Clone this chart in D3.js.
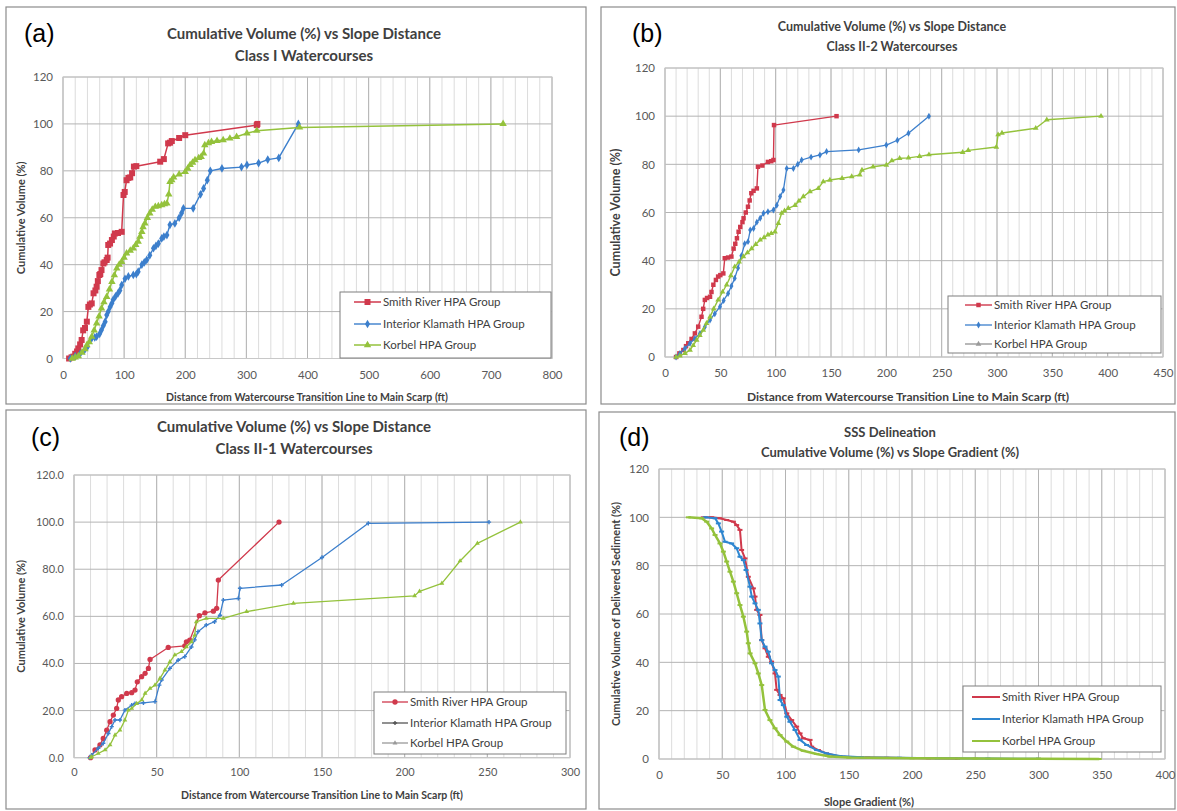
<!DOCTYPE html>
<html>
<head>
<meta charset="utf-8">
<script src="https://cdn.jsdelivr.net/npm/d3@7"></script>
<style>
body { margin: 0; background: #fff; }
svg { display: block; font-family: Lato, "Liberation Sans", Arial, sans-serif; }
</style>
</head>
<body>
<svg id="fig" width="1177" height="811"></svg>
<script>
var seriesNames = ["Smith River HPA Group", "Interior Klamath HPA Group", "Korbel HPA Group"];

// y ticks shared by all panels
var yTicks = [0, 20, 40, 60, 80, 100, 120];

// (a) Class I watercourses
var aXTicks = [0, 100, 200, 300, 400, 500, 600, 700, 800];
var aSmithX = [10,14,17,20,23,25,28,30.5,33,36,39,41.5,44,47,50,53,55,57,59.5,61,63,66,68,71.5,73,74,77,80,83,85,90,96,99,101,104,107,110,113,116,120,159,165,172,175,178,190,200,317,318];
var aSmithY = [0,0.5,0.8,2,3,4.3,6,7.9,12,13,15.7,22,23,23.5,27.8,29,30.6,33,35.6,36,37.7,40.5,41,42,43,48.4,49,50.5,52,53.3,53.5,54,69.7,71,76,77,77.2,79,81.8,82,83.9,85,91.7,92,92.7,94,95.2,99.5,100];
var aKlamathX = [12,20,28,35,40,47,52,55,60,63,66,69,71.5,74,77,80,82,86,90,93,96,101.5,107,115,120,123,129,133,137,142,148,152,156,161.5,165,170,175,183,190,194,197,213,225,230,236,241,260,292,301,320,335,353,385];
var aKlamathY = [0,1,2,3.5,5,8.6,9,9.3,10.5,12.1,14,15.7,18.5,20,22,23.5,25,26.5,27.8,29,31.3,34,35,35.6,36,37,40,41,42,44,47,48,49,51.2,52,52.6,57,57.6,60,62,64,64,70,72.5,76,80,81,81.6,82.5,83.3,84.8,85.5,100];
var aKorbelX = [15,20,25,31,36,39,43,47,51,55,59,63,67,71.5,76,80,84,88,92,96,100,104,110,115,119,123,126,129,131,134,138,142,146,151,156,161.5,166,170,173,175,178,181,190,200,204,208,212,216,222,226,230,232,238,243,252,262,273,284,301,317,387,720];
var aKorbelY = [0,0.5,1,2.5,4,5.7,7,9.3,12,15,18,21.4,24,26.3,29.5,32.7,35.5,38.4,40,41.2,43,44.8,46,47,48.5,49.8,52,54,56,57.6,60,61.9,63.5,64.7,65,65.4,65.8,66.1,70,75.3,76,77.2,78.5,79.6,81,82.5,83.5,84.6,85.5,86,87.4,91,91.8,92.4,92.8,93.1,93.8,94.5,96,97.1,98.5,100];

// (b) Class II-2 watercourses
var bXTicks = [0, 50, 100, 150, 200, 250, 300, 350, 400, 450];
var bSmithX = [10,13,16.6,19,21,24,27,30,33,34.5,36,38,40.7,42,43.7,46,48,50,52.7,54,57,60,62,63.5,65,66.5,68,70,71,73,75,76.5,78,80,83,84,88,93,96,98,98.5,155];
var bSmithY = [0,1.5,2.9,4.5,5.7,7.5,9.8,12.6,16.7,20,23.7,24.5,25,27,30,32,33.4,34,34.7,41,41.3,41.7,45,47,49.3,52,54,56,57.6,60,62.4,65,68,69,70,79,79.5,81,81.3,81.8,96.3,100];
var bKlamathX = [10,13.5,18,22.6,27,31.6,36,40.7,45,49.7,53,57,60,63,66,69,72,75,77,80,83,86,89,93,98,101,104,107,110,116,120,123.5,132,140,146,175,200,210,220,238.5];
var bKlamathY = [0,1.5,3.5,5.7,7.7,9.8,12.5,15.4,18,20.9,23.5,26.4,29.5,32.7,37,42,47,47.9,52.7,53.4,56,57.6,59.7,60.3,61,63,66.6,69.3,78.3,78.3,80,81.8,83,83.9,85.3,86,88,90,92.9,100];
var bKorbelX = [10,13.5,18,22.6,25.5,28.6,31.5,34.6,37.5,40.7,44,48,52,55.7,59.5,63,67,70.8,74.5,78.3,82,86,89.5,93,96,99.4,102.4,105.4,108,111.4,117.5,121,125,131,138.5,143,149,160,168.7,176,178,188,200,205,212,220,230,238.5,269,274,299.4,301,304.5,335,345,394];
var bKorbelY = [0,0.5,1.5,2.9,4.8,7,9,11.2,14,16.7,20,23.7,27,30,33.8,37.5,39.5,41.7,43.3,45,46.8,48.6,49.6,50.7,51.3,52,55.5,59.7,60.7,61.7,63,64.8,66.6,68.7,70,72.8,73.5,74.2,74.9,75.6,77.6,79,79.7,81.5,82.5,82.7,83.3,84,85,85.8,87.2,92.3,93,95,98.5,100];

// (c) Class II-1 watercourses
var cXTicks = [0, 50, 100, 150, 200, 250, 300];
var cSmithX = [10,12.7,15.7,17.7,19.8,21.8,23.8,25.8,26.8,28.8,31.9,34.9,36.9,38.3,40.9,43,45,46,57,67,68,70,75.8,79.2,84.3,86.3,87.3,124];
var cSmithY = [0,3.3,5.4,8.2,11.7,15.3,18.1,20.9,24.5,25.9,27.3,27.6,28.7,32.2,34.4,35.8,37.9,41.7,46.8,47.5,49.2,49.9,60.3,61.5,62.2,63.4,75.4,100];
var cKlamathX = [9.5,10.7,14.7,17.7,20.8,22.8,24.8,27.8,30.8,34.9,36.9,42,49,51.6,53,58,63,67,71,73,75,80,85,88.3,90.3,99.4,100.4,125.6,150,178,251];
var cKlamathY = [0,1.1,4,6.1,10.3,13.2,16,16,20.2,22.3,23,23.3,23.8,30.8,33,37.9,41.4,42.9,47,50,53.5,56.3,57.7,60.5,66.9,67.6,71.9,73.3,85,99.5,100];
var cKorbelX = [10,10.7,14.7,18.8,21.8,24.8,27.8,30.8,32.9,34.9,37.9,41,43,46,49,52,55,58,61,65,68,71,73,74,80,90.3,104.4,132.7,206,209,222.5,233.5,244,270];
var cKorbelY = [0,0.4,1.8,3.3,5.4,9.6,11.7,16,20.2,20.9,23,24.5,27.3,29.4,30.8,33.7,37.2,40.7,43.6,45,47.1,49.2,52,57.7,59.1,59.1,62,65.5,68.7,70.6,74,83.5,91,100];

// (d) SSS delineation, slope gradient
var dXTicks = [0, 50, 100, 150, 200, 250, 300, 350, 400];
var dSmithX = [35,41.6,48.2,53.5,58.8,61.4,64,65.3,68,70.6,74.6,75.9,77.2,79.8,81.2,83.8,86.4,89,91.7,93,95.7,98.3,101,104.9,108.8,111.5,114,119.4,120.7,126,132.5,143,150,165,180,213,236];
var dSmithY = [100,100,99.6,98.9,98.2,96.8,94.8,86.5,83,75.4,70.6,67.2,61.7,59.6,49.2,45.8,42.3,40.3,35.4,28.6,26.5,25.1,18.9,16.1,13.4,10.6,8.6,7.9,5.1,3.7,2.3,1,0.8,0.6,0.5,0.3,0.2];
var dKlamathX = [36.4,44.3,46.9,49.5,52.2,57.4,61.4,64,66.7,68.8,71.9,73.3,75.9,78.5,79.8,81.2,83.8,86.4,89,91.7,94.3,95.7,98.3,101,103.5,107.5,111.5,116.7,124.6,132.5,143,160,190,220,260,300];
var dKlamathY = [100,99.6,97.5,94.1,89.9,89.2,87.2,83.7,82.3,78.2,71.3,67.2,64.4,61.7,56.1,49.2,46.5,44.4,39.6,36.8,34.1,24.4,22.3,17.5,15.4,12,7.9,5.8,3.7,2.3,1.2,0.7,0.5,0.3,0.2,0.1];
var dKorbelX = [23.2,33.7,37.7,41.6,44.3,48.2,50.9,53.5,56.1,58.8,61.4,64,66.7,69.3,70.6,72,75.9,78.5,81.2,83.8,87.7,91.7,95.7,101,106.2,114,124.6,135,150,200,250,300,348];
var dKorbelY = [100,99.6,98.2,95.4,92.7,89.2,85.8,81.7,77.5,73.4,68.6,63.7,58.9,52.7,47.9,43.7,39.6,35.4,30.6,20.3,16.1,12.7,9.9,7.2,5.1,3.4,2.1,1,0.6,0.3,0.2,0.1,0];

var RED = "#d0394c", BLUE = "#3c7fcc", GREEN = "#94c23c";

function pts(xs, ys) { return xs.map(function(v, i) { return [v, ys[i]]; }); }

var svg = d3.select("#fig");

function marker(sel, type, size, color) {
    if (type === "dash") {
        sel.append("rect").attr("x", -2.5).attr("y", -1).attr("width", 5).attr("height", 2).attr("fill", color);
    } else if (type === "plus") {
        sel.append("path").attr("d", d3.symbol().type(d3.symbolCross).size(size)()).attr("fill", color);
    } else {
        sel.append("path").attr("d", d3.symbol().type(type).size(size)()).attr("fill", color);
    }
}

function drawPanel(p) {
    var g = svg.append("g");
    g.append("rect").attr("x", p.box[0]).attr("y", p.box[1]).attr("width", p.box[2]).attr("height", p.box[3])
        .attr("fill", "#fff").attr("stroke", "#8c8c8c").attr("stroke-width", 1.2);

    var x = d3.scaleLinear().domain([0, p.xMax]).range([p.left, p.right]);
    var y = d3.scaleLinear().domain([0, 120]).range([p.bottom, p.top]);

    // minor vertical grid
    g.selectAll(".vmin").data(d3.range(0, p.xMax + 0.001, p.xMinor)).enter().append("line")
        .attr("x1", function(d) { return x(d); }).attr("x2", function(d) { return x(d); })
        .attr("y1", p.top).attr("y2", p.bottom).attr("stroke", "#dcdcdc").attr("stroke-width", 1);
    g.selectAll(".vmaj").data(p.xTicks).enter().append("line")
        .attr("x1", function(d) { return x(d); }).attr("x2", function(d) { return x(d); })
        .attr("y1", p.top).attr("y2", p.bottom).attr("stroke", "#b4b4b4").attr("stroke-width", 1);
    g.selectAll(".hmaj").data(yTicks).enter().append("line")
        .attr("x1", p.left).attr("x2", p.right)
        .attr("y1", function(d) { return y(d); }).attr("y2", function(d) { return y(d); })
        .attr("stroke", "#b4b4b4").attr("stroke-width", 1);
    g.append("rect").attr("x", p.left).attr("y", p.top).attr("width", p.right - p.left).attr("height", p.bottom - p.top)
        .attr("fill", "none").attr("stroke", "#c8c8c8");

    var xAxis = g.append("g").attr("transform", "translate(0," + p.bottom + ")")
        .call(d3.axisBottom(x).tickValues(p.xTicks).tickSize(0).tickPadding(p.xPad));
    xAxis.select(".domain").remove();
    xAxis.selectAll("text").attr("fill", "#595959").style("font-size", p.tickSize + "px")
        .style("font-family", "Lato, 'Liberation Sans', sans-serif");

    var yAxis = g.append("g").attr("transform", "translate(" + p.left + ",0)")
        .call(d3.axisLeft(y).tickValues(yTicks).tickSize(0).tickPadding(p.yPad).tickFormat(p.yFmt));
    yAxis.select(".domain").remove();
    yAxis.selectAll("text").attr("fill", "#595959").style("font-size", p.tickSize + "px")
        .style("font-family", "Lato, 'Liberation Sans', sans-serif");

    // series
    var line = d3.line().x(function(d) { return x(d[0]); }).y(function(d) { return y(d[1]); });
    p.series.forEach(function(s) {
        g.append("path").datum(s.data).attr("d", line).attr("fill", "none")
            .attr("stroke", s.color).attr("stroke-width", s.width).attr("stroke-linejoin", "round");
        var m = g.selectAll(null).data(s.data).enter().append("g")
            .attr("transform", function(d) { return "translate(" + x(d[0]) + "," + y(d[1]) + ")"; });
        marker(m, s.marker, s.msize, s.color);
    });

    // legend
    var L = p.legend;
    g.append("rect").attr("x", L.x).attr("y", L.y).attr("width", L.w).attr("height", L.h)
        .attr("fill", "#fff").attr("stroke", "#7f7f7f").attr("stroke-width", 1);
    p.series.forEach(function(s, i) {
        var ly = L.rows[i];
        var lc = s.legendColor || s.color;
        g.append("line").attr("x1", L.lx).attr("x2", L.lx + L.lw).attr("y1", ly).attr("y2", ly)
            .attr("stroke", lc).attr("stroke-width", Math.min(s.width, 2));
        var m = g.append("g").attr("transform", "translate(" + (L.lx + L.lw / 2) + "," + ly + ")");
        marker(m, s.marker, s.msize, lc);
        g.append("text").attr("x", L.lx + L.lw + 2).attr("y", ly + 4).text(seriesNames[i])
            .attr("fill", "#404040").style("font-size", L.fs + "px");
    });

    // titles
    p.title.forEach(function(t, i) {
        g.append("text").attr("x", p.titleX).attr("y", p.titleY[i]).attr("text-anchor", "middle")
            .text(t).attr("fill", "#404040").style("font-weight", "bold").style("font-size", p.titleSize + "px");
    });
    g.append("text").attr("x", p.tag[0]).attr("y", p.tag[1]).text("(" + p.id + ")")
        .style("font-family", "'Liberation Sans', Arial, sans-serif").style("font-size", "25px").attr("fill", "#000");

    g.append("text").attr("transform", "translate(" + p.yTitle[0] + "," + ((p.top + p.bottom) / 2) + ") rotate(-90)")
        .attr("text-anchor", "middle").text(p.yTitleText).attr("fill", "#404040")
        .style("font-weight", "bold").style("font-size", p.yTitle[1] + "px");
    g.append("text").attr("x", p.xTitle[0]).attr("y", p.xTitle[1]).attr("text-anchor", "middle")
        .text(p.xTitleText).attr("fill", "#404040")
        .style("font-weight", "bold").style("font-size", p.xTitle[2] + "px");
}

var distTitle = "Distance from Watercourse Transition Line to Main Scarp (ft)";

drawPanel({
    id: "a", box: [6, 7, 580, 397], left: 63, right: 552, top: 77, bottom: 358.5, xMax: 800,
    xTicks: aXTicks, xMinor: 20, xPad: 12, yPad: 10, tickSize: 11.5, yFmt: d3.format("d"),
    title: ["Cumulative Volume (%) vs Slope Distance", "Class I Watercourses"], titleX: 304, titleY: [39, 61], titleSize: 15,
    tag: [24, 42], yTitleText: "Cumulative Volume (%)", yTitle: [25, 11],
    xTitleText: distTitle, xTitle: [307, 401, 10.5],
    legend: { x: 340, y: 292, w: 211, h: 66, rows: [302, 324, 345], lx: 354, lw: 27, fs: 11.5 },
    series: [
        { data: pts(aSmithX, aSmithY), color: RED, width: 1.5, marker: d3.symbolSquare, msize: 36 },
        { data: pts(aKlamathX, aKlamathY), color: BLUE, width: 1.4, marker: d3.symbolDiamond, msize: 22 },
        { data: pts(aKorbelX, aKorbelY), color: GREEN, width: 1.5, marker: d3.symbolTriangle, msize: 24 }
    ]
});

drawPanel({
    id: "b", box: [601, 7, 574, 397], left: 665, right: 1163, top: 68, bottom: 357, xMax: 450,
    xTicks: bXTicks, xMinor: 10, xPad: 12, yPad: 10, tickSize: 11.5, yFmt: d3.format("d"),
    title: ["Cumulative Volume (%) vs Slope Distance", "Class II-2 Watercourses"], titleX: 892, titleY: [31, 51], titleSize: 12.5,
    tag: [632, 42], yTitleText: "Cumulative Volume (%)", yTitle: [620, 12.5],
    xTitleText: distTitle, xTitle: [908, 401, 12],
    legend: { x: 948, y: 296, w: 213, h: 57, rows: [305, 325, 344], lx: 965, lw: 27, fs: 11.5 },
    series: [
        { data: pts(bSmithX, bSmithY), color: RED, width: 1.4, marker: d3.symbolSquare, msize: 20 },
        { data: pts(bKlamathX, bKlamathY), color: BLUE, width: 1.3, marker: d3.symbolDiamond, msize: 14, legendColor: BLUE },
        { data: pts(bKorbelX, bKorbelY), color: GREEN, width: 1.4, marker: d3.symbolTriangle, msize: 14, legendColor: "#9a9a9a" }
    ]
});

drawPanel({
    id: "c", box: [6, 410, 580, 399], left: 74, right: 570, top: 475, bottom: 757.7, xMax: 300,
    xTicks: cXTicks, xMinor: 10, xPad: 11, yPad: 10, tickSize: 11, yFmt: d3.format(".1f"),
    title: ["Cumulative Volume (%) vs Slope Distance", "Class II-1 Watercourses"], titleX: 294, titleY: [432, 454], titleSize: 15,
    tag: [31, 446], yTitleText: "Cumulative Volume (%)", yTitle: [25, 11],
    xTitleText: distTitle, xTitle: [322, 799, 10.5],
    legend: { x: 374, y: 692, w: 192, h: 62, rows: [702, 723, 743], lx: 382, lw: 26, fs: 11.5 },
    series: [
        { data: pts(cSmithX, cSmithY), color: RED, width: 1.3, marker: d3.symbolCircle, msize: 22 },
        { data: pts(cKlamathX, cKlamathY), color: BLUE, width: 1.3, marker: "plus", msize: 10, legendColor: "#555" },
        { data: pts(cKorbelX, cKorbelY), color: GREEN, width: 1.3, marker: d3.symbolTriangle, msize: 10, legendColor: "#9a9a9a" }
    ]
});

drawPanel({
    id: "d", box: [599, 412, 576, 397], left: 659, right: 1165, top: 469, bottom: 759, xMax: 400,
    xTicks: dXTicks, xMinor: 10, xPad: 12, yPad: 10, tickSize: 11.5, yFmt: d3.format("d"),
    title: ["SSS Delineation", "Cumulative Volume (%) vs Slope Gradient (%)"], titleX: 890, titleY: [437, 457], titleSize: 13,
    tag: [619, 446], yTitleText: "Cumulative Volume of Delivered Sediment (%)", yTitle: [620, 11],
    xTitleText: "Slope Gradient (%)", xTitle: [869, 806, 11],
    legend: { x: 963, y: 686, w: 198, h: 66, rows: [697, 719, 741], lx: 972, lw: 28, fs: 11.5 },
    series: [
        { data: pts(dSmithX, dSmithY), color: RED, width: 2, marker: "dash", msize: 6 },
        { data: pts(dKlamathX, dKlamathY), color: "#2e86d0", width: 2, marker: "dash", msize: 6 },
        { data: pts(dKorbelX, dKorbelY), color: GREEN, width: 2.5, marker: "dash", msize: 6 }
    ]
});
</script>
</body>
</html>
